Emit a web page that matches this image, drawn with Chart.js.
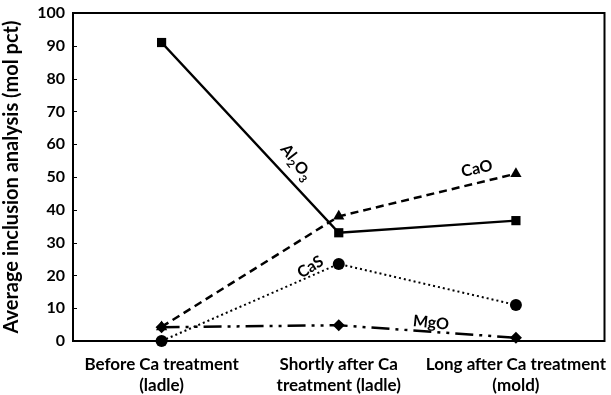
<!DOCTYPE html>
<html>
<head>
<meta charset="utf-8">
<script src="https://cdn.jsdelivr.net/npm/chart.js@4"></script>
<style>
  html, body { margin: 0; padding: 0; background: #fff; }
  #wrap { width: 611px; height: 395px; }
</style>
</head>
<body>
<div id="wrap"><canvas id="chart" width="611" height="395"></canvas></div>
<script>
// data
const categories = [
  ["Before Ca treatment", "(ladle)"],
  ["Shortly after Ca", "treatment (ladle)"],
  ["Long after Ca treatment", "(mold)"]
];
const al2o3 = [91, 33, 36.7];
const cao = [4.3, 38, 51];
const cas = [0, 23.5, 11];
const mgo = [4.2, 4.8, 1];
const yTicks = [0, 10, 20, 30, 40, 50, 60, 70, 80, 90, 100];

const FONT = "Lato, 'Open Sans', sans-serif";

// series labels placed next to the lines (category index, value, rotation)
const seriesLabels = [
  { parts: [["Al", 16], ["2", 11, 4], ["O", 16], ["3", 11, 4]], at: [0.76, 54.5], rot: 52 },
  { parts: [["CaO", 16]], at: [1.78, 52.5], rot: -12 },
  { parts: [["CaS", 16]], at: [0.84, 22.5], rot: -32 },
  { parts: [["MgO", 16]], at: [1.52, 5.5], rot: 6 }
];

const frame = {
  id: "frame",
  beforeDatasetsDraw(chart) {
    const { ctx, chartArea: a } = chart;
    ctx.save();
    ctx.strokeStyle = "#000";
    ctx.lineWidth = 2;
    ctx.strokeRect(a.left, a.top, a.right - a.left, a.bottom - a.top);
    // short inward tick marks on y axis
    const y = chart.scales.y;
    ctx.lineWidth = 1;
    yTicks.forEach(v => {
      const py = Math.round(y.getPixelForValue(v)) + 0.5;
      ctx.beginPath(); ctx.moveTo(a.left, py); ctx.lineTo(a.left + 4, py); ctx.stroke();
    });
    ctx.restore();
  },
  afterDatasetsDraw(chart) {
    const { ctx, scales: { x, y } } = chart;
    ctx.save();
    ctx.fillStyle = "#000";
    ctx.textBaseline = "alphabetic";
    seriesLabels.forEach(l => {
      const i = Math.floor(l.at[0]), f = l.at[0] - i;
      const px = x.getPixelForValue(i) + f * (x.getPixelForValue(i + 1) - x.getPixelForValue(i));
      const py = y.getPixelForValue(l.at[1]);
      let w = 0;
      l.parts.forEach(p => { ctx.font = `bold ${p[1]}px ${FONT}`; w += ctx.measureText(p[0]).width; });
      ctx.translate(px, py);
      ctx.rotate(l.rot * Math.PI / 180);
      let cx = -w / 2;
      l.parts.forEach(p => {
        ctx.font = `bold ${p[1]}px ${FONT}`;
        ctx.fillText(p[0], cx, 5 + (p[2] || 0));
        cx += ctx.measureText(p[0]).width;
      });
      ctx.setTransform(1, 0, 0, 1, 0, 0);
    });
    ctx.restore();
  }
};

function series(label, data, dash, width, style, radius) {
  return {
    label, data,
    borderColor: "#000", backgroundColor: "#000",
    borderWidth: width, borderDash: dash,
    pointStyle: style, pointRadius: radius, pointHoverRadius: radius,
    pointBorderWidth: 0, tension: 0, clip: false
  };
}

new Chart(document.getElementById("chart"), {
  type: "line",
  data: {
    labels: categories,
    datasets: [
      series("Al2O3", al2o3, [], 2.5, "rect", 6.5),
      series("CaO", cao, [8, 5], 2.5, "triangle", 6.5),
      series("CaS", cas, [2, 3], 2, "circle", 6),
      series("MgO", mgo, [18, 6, 3, 6, 3, 6], 2.5, "rectRot", 6)
    ]
  },
  options: {
    responsive: false,
    animation: false,
    layout: { padding: { top: 0, right: 2, left: 0, bottom: 0 } },
    plugins: { legend: { display: false }, tooltip: { enabled: false } },
    scales: {
      x: {
        offset: true,
        grid: { display: false, drawTicks: false },
        border: { display: false },
        ticks: { color: "#000", font: { family: FONT, size: 17, weight: "bold", lineHeight: 1.25 }, padding: 13, maxRotation: 0, autoSkip: false },
        afterFit(s) { s.height = 54; s.paddingLeft = 0; s.paddingRight = 0; }
      },
      y: {
        min: 0, max: 100,
        afterBuildTicks(s) { s.ticks = yTicks.map(v => ({ value: v })); },
        grid: { display: false, drawTicks: false },
        border: { display: false },
        ticks: { color: "#000", font: { family: FONT, size: 16, weight: "bold" }, padding: 8 },
        title: {
          display: true,
          text: "Average inclusion analysis (mol pct)",
          color: "#000",
          font: { family: FONT, size: 20, weight: "bold" },
          padding: { top: 0, bottom: 3 }
        },
        afterFit(s) { s.width = 73; s.paddingTop = 13; }
      }
    }
  },
  plugins: [frame]
});
</script>
</body>
</html>
